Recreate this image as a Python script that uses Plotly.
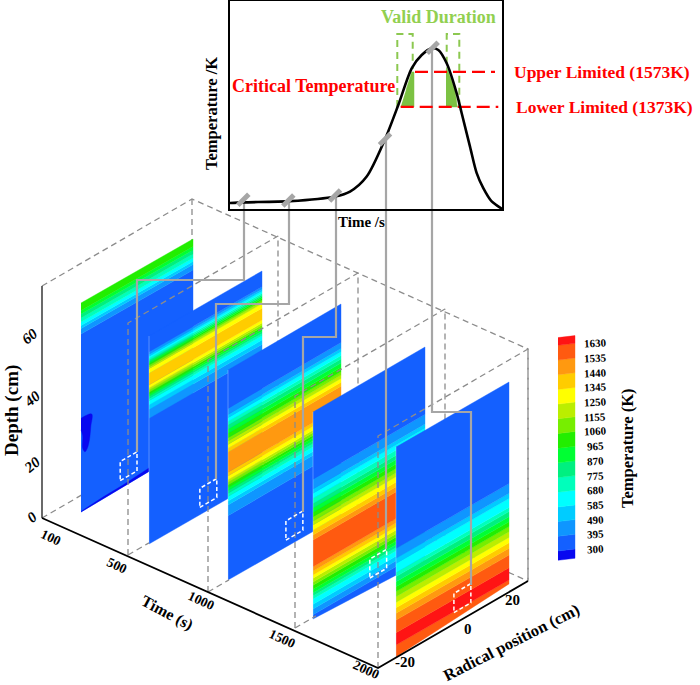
import plotly.graph_objects as go

# colour scale (lower edge of every band in K)
level_ticks = [300, 395, 490, 585, 680, 775, 870, 965, 1060, 1155, 1250, 1345, 1440, 1535, 1630]
level_colors = ["#1460ff", "#0f96ff", "#00ccff", "#00ffff", "#00ffbb", "#00f080", "#00ff33", "#22ee00",
                "#77ee00", "#bbee00", "#ffff00", "#ffcc00", "#ff9910", "#ff5a10", "#ff1414"]
deep_blue = "#0808f0"

# depth profiles on the five slices: band temperature and depth of the band's upper edge (cm)
time_ticks = ["100", "500", "1000", "1500", "2000"]
slice_100_levels = [300, 395, 490, 585, 680, 775, 870, 965]
slice_100_tops = [59.6, 61.5, 62.5, 63.6, 65.0, 66.3, 67.5, 70]
slice_500_levels = [300, 395, 490, 585, 680, 775, 870, 965, 1060, 1155, 1250, 1345,
                    1250, 1155, 1060, 965, 870, 775, 680, 585, 490, 395, 300]
slice_500_tops = [42.3, 45.3, 46.8, 48.2, 49.0, 49.7, 50.4, 51.1, 51.8, 52.5, 53.5, 57.5,
                  59.0, 59.6, 60.2, 60.8, 61.4, 61.9, 62.5, 63.2, 63.9, 64.7, 70]
slice_1000_levels = [300, 395, 490, 585, 680, 775, 870, 965, 1060, 1155, 1250, 1345, 1440,
                     1345, 1250, 1155, 1060, 965, 870, 775, 680, 585, 490, 395, 300]
slice_1000_tops = [21.4, 25.0, 26.3, 27.8, 28.9, 29.8, 30.8, 31.7, 32.6, 33.4, 34.7, 35.9, 42.6,
                   43.9, 45.2, 46.3, 47.4, 48.9, 50.3, 51.7, 52.8, 54.1, 55.2, 57.2, 70]
slice_1500_levels = [300, 395, 490, 585, 680, 775, 870, 965, 1060, 1155, 1250, 1345, 1440, 1535,
                     1440, 1345, 1250, 1155, 1060, 965, 870, 775, 680, 585, 490, 395, 300]
slice_1500_tops = [1.4, 3.4, 5.0, 6.8, 7.9, 8.9, 10.1, 11.4, 12.5, 13.8, 14.9, 16.2, 17.7, 26.7,
                   28.4, 30.0, 31.8, 33.1, 34.6, 36.1, 37.6, 39.1, 40.8, 42.5, 44.0, 47.3, 70]
slice_2000_levels = [1535, 1630, 1535, 1440, 1345, 1250, 1155, 1060, 965, 870, 775, 680, 585, 490, 395, 300]
slice_2000_tops = [4.0, 8.1, 12.3, 14.6, 16.4, 18.2, 20.1, 21.8, 23.4, 25.1, 26.8, 28.2, 31.2, 32.9, 36.2, 70]

# cold spots on the first slice
blob_radial = [-20.0, -16.2, -16.5, -17.0, -17.7, -18.6, -19.4, -19.4, -20.0]
blob_depth = [31.4, 30.8, 26.7, 22.5, 20.2, 19.4, 21.0, 25.2, 27.5]
sliver_radial = [-20, -12, -5, 0, 5]
sliver_depth = [0.2, 0.8, 1.0, 1.3, 1.8]

# inset curve
curve_time = [0, 133, 600, 1050, 1200, 1367, 1550, 1683, 1817, 1917, 2017, 2083, 2167, 2267, 2317,
              2400, 2467, 2533, 2617, 2723]
curve_temp = [823, 827, 834, 861, 889, 975, 1188, 1384, 1594, 1670, 1708, 1699, 1623, 1451, 1337,
              1146, 994, 908, 832, 789]
marker_time = [133, 583, 1050, 1550, 2027]
marker_temp = [842, 838, 866, 1188, 1712]
lower_limit = 1373
upper_limit = 1573

# slice placement on the page: one entry per time
slice_left = [81, 149, 228, 313, 396]
slice_bottom = [512, 544, 580, 619, 657]
slice_height = [209, 208, 210, 207, 210]
slice_width = [112, 113, 113, 112, 113]
slice_rise = [64, 65, 66, 65, 65]
slice_cut = [1.0, 0.0, -0.5, -2.0, 2.7]
box_radial = [-6.0, -2.0, 0.5, 0.3, 0.5]
box_depth = [3.0, 2.5, 2.0, 2.7, 3.7]

# axis box corners at each time tick
tick_x = [42, 128, 208, 295, 378]
tick_y = [518, 555, 592, 628, 668]

SERIF = "Liberation Serif"
GRAY = "#a6a6a6"
DASH_GRAY = "#8c8c8c"
GREEN = "#92d050"
RED = "#ff0000"

fig = go.Figure()


def slice_xy(i, r, d):
    frac = (r + 20) / 40
    x = slice_left[i] + frac * slice_width[i]
    y = slice_bottom[i] - frac * slice_rise[i] - d / 70 * slice_height[i]
    return x, y


def box_xy(i, r_frac, d_frac):
    return tick_x[i] + r_frac * 150, tick_y[i] - r_frac * 87 - d_frac * 232


def add_line(xs, ys, color, width, dash=None):
    fig.add_trace(go.Scatter(x=xs, y=ys, mode="lines", hoverinfo="skip",
                             line=dict(color=color, width=width, dash=dash)))


def add_poly(xs, ys, color, shape="linear"):
    fig.add_trace(go.Scatter(x=xs, y=ys, mode="lines", fill="toself", fillcolor=color, hoverinfo="skip",
                             line=dict(color=color, width=0.4, shape=shape)))


def draw_slice(i, levels, tops):
    rs = [-20 + k * 2 for k in range(21)]
    cut = slice_cut[i]
    low = None
    for level, top in zip(levels, tops):
        lo_pts = []
        hi_pts = []
        for r in rs:
            edge = (r + 20) / 40 * cut
            lo = edge if low is None else max(low, edge)
            hi = max(top, edge)
            lo_pts.append(slice_xy(i, r, lo))
            hi_pts.append(slice_xy(i, r, hi))
        pts = lo_pts + hi_pts[::-1]
        add_poly([p[0] for p in pts], [p[1] for p in pts], level_colors[level_ticks.index(level)])
        low = top
    if i > 0:
        # light seam where a slice overlaps the previous one
        a = slice_xy(i, -20, 0)
        b = slice_xy(i, -20, 70)
        add_line([a[0], b[0]], [a[1], b[1]], "rgba(215,228,255,0.35)", 1)


def draw_frame(i, stub):
    bot = box_xy(i, 0, 0)
    top = box_xy(i, 0, 1)
    back_top = box_xy(i, 1, 1)
    back_bot = box_xy(i, 1, 0)
    add_line([bot[0], top[0], back_top[0], back_bot[0]], [bot[1], top[1], back_top[1], back_bot[1]],
             DASH_GRAY, 1.3, "6px,4px")
    if stub > 0:
        end = box_xy(i, stub, 0)
        add_line([bot[0], end[0]], [bot[1], end[1]], DASH_GRAY, 1.3, "6px,4px")


# back of the box, behind everything
p0 = box_xy(0, 0, 1)
p1 = box_xy(0, 1, 1)
p2 = box_xy(4, 1, 1)
p3 = box_xy(4, 1, 0)
p4 = box_xy(0, 1, 0)
p5 = box_xy(0, 0, 0)
add_line([p0[0], p1[0], p2[0], p3[0]], [p0[1], p1[1], p2[1], p3[1]], DASH_GRAY, 1.3, "6px,4px")
add_line([p1[0], p4[0]], [p1[1], p4[1]], DASH_GRAY, 1.3, "6px,4px")
add_line([p5[0], p4[0], p3[0]], [p5[1], p4[1], p3[1]], DASH_GRAY, 1.3, "6px,4px")

draw_slice(0, slice_100_levels, slice_100_tops)
pts = [slice_xy(0, r, d) for r, d in zip(blob_radial, blob_depth)]
add_poly([p[0] for p in pts], [p[1] for p in pts], deep_blue, shape="spline")
pts = [slice_xy(0, r, d) for r, d in zip(sliver_radial, sliver_depth)]
pts += [slice_xy(0, r, (r + 20) / 40 * slice_cut[0]) for r in sliver_radial[::-1]]
add_poly([p[0] for p in pts], [p[1] for p in pts], deep_blue)

draw_slice(1, slice_500_levels, slice_500_tops)
draw_frame(1, 0.14)
draw_slice(2, slice_1000_levels, slice_1000_tops)
draw_frame(2, 0.14)
draw_slice(3, slice_1500_levels, slice_1500_tops)
draw_frame(3, 0.14)
draw_slice(4, slice_2000_levels, slice_2000_tops)
draw_frame(4, 0)

# axes of the box
add_line([p5[0], p0[0]], [p5[1], p0[1]], "#444444", 1.6)
a = box_xy(4, 0, 0)
b = box_xy(4, 1, 0)
add_line([p5[0], a[0], b[0]], [p5[1], a[1], b[1]], "black", 1.8)

# white dashed sample boxes
for i in range(5):
    r0, d0 = box_radial[i], box_depth[i]
    pts = [slice_xy(i, r0, d0), slice_xy(i, r0 + 6, d0), slice_xy(i, r0 + 6, d0 + 6.4),
           slice_xy(i, r0, d0 + 6.4), slice_xy(i, r0, d0)]
    add_line([p[0] for p in pts], [p[1] for p in pts], "white", 1.5, "4px,2.5px")

# grey links from the curve down to the boxes
links = [
    ([244, 244, 137, 137], [200, 280, 280, 452]),
    ([289, 289, 216, 216], [201, 304, 304, 479]),
    ([336, 336, 303, 303], [196, 337, 337, 512]),
    ([386, 386], [140, 549]),
    ([432, 432, 471, 471], [48, 412, 412, 585]),
]
for xs, ys in links:
    add_line(xs, ys, GRAY, 2.2)

# colour bar
bar_edges = [240] + level_ticks + [1680]
bar_colors = [deep_blue] + level_colors


def bar_y(temp):
    return 320 + (690 - (temp - 300) * 0.4639) / 3


for k, color in enumerate(bar_colors):
    lo = bar_y(bar_edges[k])
    hi = bar_y(bar_edges[k + 1])
    add_poly([558, 575, 575, 558], [lo + 1, lo - 1, hi - 1, hi + 1], color)

# inset plot
valid_left_time = [1707, 1840, 1840, 1817, 1760]
valid_left_temp = [1373, 1373, 1573, 1573, 1470]
valid_right_time = [2160, 2273, 2250, 2167, 2160]
valid_right_temp = [1373, 1373, 1470, 1600, 1573]
for xs, ys in [(valid_left_time, valid_left_temp), (valid_right_time, valid_right_temp)]:
    fig.add_trace(go.Scatter(x=xs, y=ys, xaxis="x2", yaxis="y2", mode="lines", fill="toself",
                             fillcolor="#7cc243", line=dict(color="#7cc243", width=0.5), hoverinfo="skip"))

box_left_time = [1673, 1673, 1827, 1827]
box_left_temp = [1373, 1790, 1790, 1590]
box_right_time = [2167, 2167, 2293, 2293]
box_right_temp = [1620, 1790, 1790, 1373]
for xs, ys in [(box_left_time, box_left_temp), (box_right_time, box_right_temp)]:
    fig.add_trace(go.Scatter(x=xs, y=ys, xaxis="x2", yaxis="y2", mode="lines", hoverinfo="skip",
                             line=dict(color="#8cc850", width=2, dash="7px,5px")))

fig.add_trace(go.Scatter(x=[1850, 2650], y=[upper_limit, upper_limit], xaxis="x2", yaxis="y2", mode="lines",
                         hoverinfo="skip", line=dict(color=RED, width=2.2, dash="13px,6px")))
fig.add_trace(go.Scatter(x=[1707, 2683], y=[lower_limit, lower_limit], xaxis="x2", yaxis="y2", mode="lines",
                         hoverinfo="skip", line=dict(color=RED, width=2.2, dash="13px,6px")))
fig.add_trace(go.Scatter(x=curve_time, y=curve_temp, xaxis="x2", yaxis="y2", mode="lines", hoverinfo="skip",
                         line=dict(color="black", width=2.6, shape="spline", smoothing=0.8)))
fig.add_trace(go.Scatter(x=marker_time, y=marker_temp, xaxis="x2", yaxis="y2", mode="markers", hoverinfo="skip",
                         cliponaxis=False,
                         marker=dict(symbol="line-ne", size=11, line=dict(color=GRAY, width=5))))


def add_text(x, y, text, size, angle=0, color="black"):
    fig.add_annotation(x=x, y=y, xref="x", yref="y", text=text, showarrow=False, textangle=angle,
                       xanchor="center", yanchor="middle",
                       font=dict(family=SERIF, size=size, color=color))


# inset texts
add_text(438, 17, "<b>Valid Duration</b>", 18, color=GREEN)
add_text(313, 86, "<b>Critical Temperature</b>", 18, color=RED)
add_text(602, 72, "<b>Upper Limited (1573K)</b>", 17.5, color=RED)
add_text(604, 107, "<b>Lower Limited (1373K)</b>", 17.5, color=RED)
add_text(211, 114, "<b>Temperature /K</b>", 16.5, angle=-90)
add_text(361, 222, "<b>Time /s</b>", 15)

# box texts
depth_ticks = ["0", "20", "40", "60"]
depth_x = [32, 32, 32, 30]
depth_y = [517, 465, 399, 336]
for t, x, y in zip(depth_ticks, depth_x, depth_y):
    add_text(x, y, "<b><i>" + t + "</i></b>", 15, angle=-40)
time_x = [51, 117, 201, 282, 366]
time_y = [537, 565, 600, 638, 669]
for t, x, y in zip(time_ticks, time_x, time_y):
    add_text(x, y, "<b>" + t + "</b>", 13.5, angle=25)
radial_ticks = ["-20", "0", "20"]
radial_x = [405, 468, 512]
radial_y = [662, 629, 600]
for t, x, y in zip(radial_ticks, radial_x, radial_y):
    add_text(x, y, "<b>" + t + "</b>", 15)
add_text(12, 411, "<b>Depth (cm)</b>", 19, angle=-90)
add_text(167, 613, "<b>Time (s)</b>", 16, angle=28)
add_text(511, 642, "<b>Radical position (cm)</b>", 16.5, angle=-27)

# colour bar labels
for t in level_ticks:
    add_text(595, bar_y(t) - 1, "<b>" + str(t) + "</b>", 11, angle=-3)
add_text(627, 448, "<b>Temperature (K)</b>", 16.5, angle=-90)

fig.update_layout(
    width=700,
    height=685,
    margin=dict(l=0, r=0, t=0, b=0),
    paper_bgcolor="white",
    plot_bgcolor="rgba(0,0,0,0)",
    showlegend=False,
    xaxis=dict(range=[0, 700], domain=[0, 1], visible=False, fixedrange=True),
    yaxis=dict(range=[685, 0], domain=[0, 1], visible=False, fixedrange=True),
    xaxis2=dict(range=[0, 2723], domain=[230 / 700, 502.3 / 700], anchor="y2", showticklabels=False,
                ticks="", showgrid=False, zeroline=False, showline=True, mirror=True, linecolor="black",
                linewidth=2),
    yaxis2=dict(range=[789, 1979], domain=[(685 - 209) / 685, (685 - 1) / 685], anchor="x2",
                showticklabels=False, ticks="", showgrid=False, zeroline=False, showline=True, mirror=True,
                linecolor="black", linewidth=2),
)

fig.write_html("out.html", config={"displayModeBar": False},
               post_script="document.body.style.margin='0';document.body.style.overflow='hidden';")
